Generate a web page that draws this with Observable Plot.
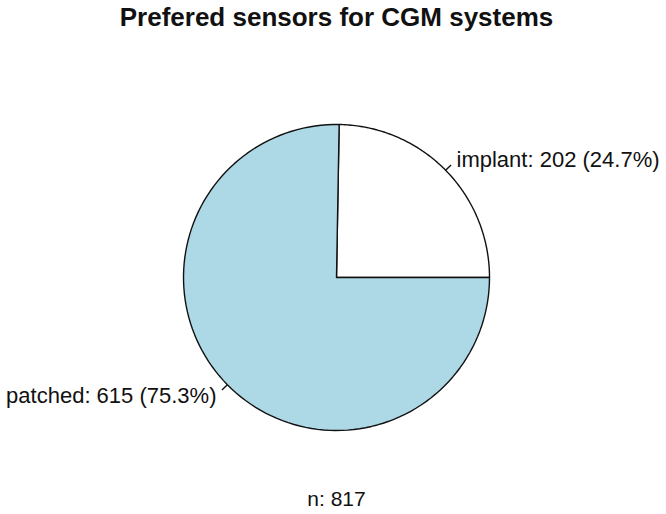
<!DOCTYPE html>
<html>
<head>
<meta charset="utf-8">
<script src="https://cdn.jsdelivr.net/npm/d3@7"></script>
<script src="https://cdn.jsdelivr.net/npm/@observablehq/plot@0.6"></script>
<style>
  html, body { margin: 0; padding: 0; background: #fff; }
  #chart svg { display: block; font-family: "Liberation Sans", Arial, sans-serif; }
</style>
</head>
<body>
<div id="chart"></div>
<script>
const title = "Prefered sensors for CGM systems";
const categories = ["implant", "patched"];
const counts = [202, 615];
const sliceColors = ["white", "lightblue"];

const total = d3.sum(counts);
const footer = `n: ${total}`;

// slices: counter-clockwise from 3 o'clock (like R's pie)
let cum = 0;
const slices = categories.map((cat, i) => {
  const a0 = 2 * Math.PI * cum / total;
  cum += counts[i];
  const a1 = 2 * Math.PI * cum / total;
  const mid = (a0 + a1) / 2;
  const pct = 100 * counts[i] / total;
  return {cat, count: counts[i], a0, a1, mid, label: `${cat}: ${counts[i]} (${pct.toFixed(1)}%)`};
});

const wedgePts = [];
for (const s of slices) {
  wedgePts.push({cat: s.cat, x: 0, y: 0});
  const n = 120;
  for (let k = 0; k <= n; k++) {
    const a = s.a0 + (s.a1 - s.a0) * k / n;
    wedgePts.push({cat: s.cat, x: Math.cos(a), y: Math.sin(a)});
  }
  wedgePts.push({cat: s.cat, x: 0, y: 0});
}

const ticks = slices.map(s => ({
  x1: Math.cos(s.mid), y1: Math.sin(s.mid),
  x2: 1.05 * Math.cos(s.mid), y2: 1.05 * Math.sin(s.mid)
}));
const labels = slices.map(s => ({
  label: s.label, x: 1.1 * Math.cos(s.mid), y: 1.1 * Math.sin(s.mid), right: Math.cos(s.mid) >= 0
}));

const chart = Plot.plot({
  width: 666,
  height: 514,
  marginLeft: 183,
  marginRight: 177,
  marginTop: 124,
  marginBottom: 84,
  x: {domain: [-1, 1], axis: null},
  y: {domain: [-1, 1], axis: null},
  color: {domain: categories, range: sliceColors},
  marks: [
    Plot.line(wedgePts, {x: "x", y: "y", z: "cat", fill: "cat", stroke: "#111", strokeWidth: 1.4, strokeLinejoin: "miter"}),
    Plot.link(ticks, {x1: "x1", y1: "y1", x2: "x2", y2: "y2", stroke: "#111", strokeWidth: 1.4}),
    Plot.text(labels.filter(d => d.right), {x: "x", y: "y", text: "label", textAnchor: "start", fontSize: 22, fill: "#111"}),
    Plot.text(labels.filter(d => !d.right), {x: "x", y: "y", text: "label", textAnchor: "end", fontSize: 22, fill: "#111"}),
    Plot.text([title], {frameAnchor: "top", lineAnchor: "middle", dy: -107, fontSize: 26, fontWeight: "bold", fill: "#111"}),
    Plot.text([footer], {frameAnchor: "bottom", lineAnchor: "middle", dy: 69, fontSize: 21, fill: "#111"})
  ]
});
document.getElementById("chart").append(chart);
</script>
</body>
</html>
